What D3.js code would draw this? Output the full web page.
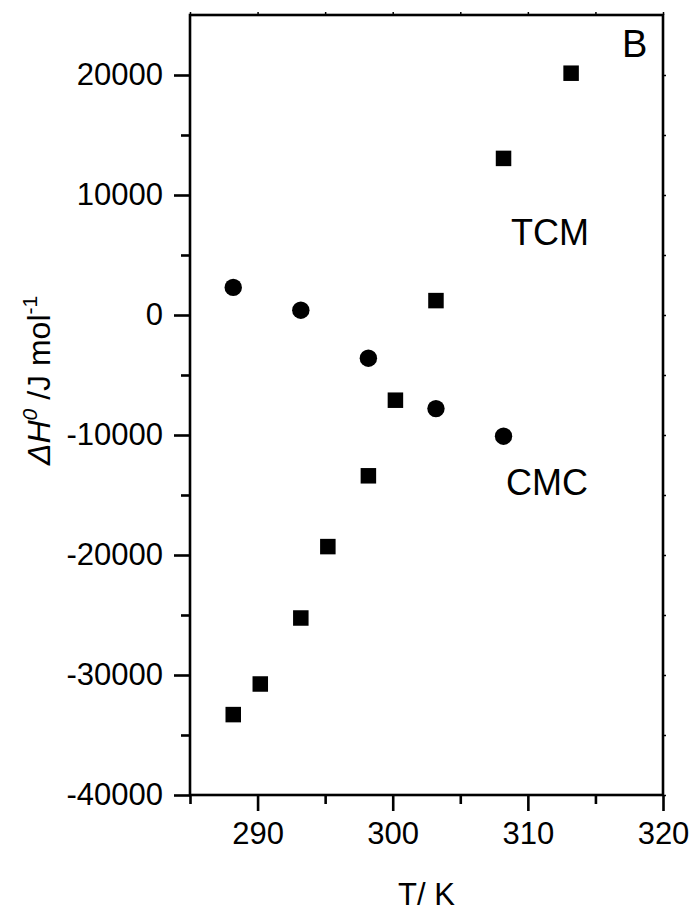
<!DOCTYPE html>
<html><head><meta charset="utf-8">
<script src="https://cdn.jsdelivr.net/npm/d3@7"></script>
<style>html,body{margin:0;padding:0;background:#fff;}svg{display:block;font-family:"Liberation Sans",Arial,sans-serif;}</style>
</head><body>
<script>
const cmcT = [288.2, 293.2, 298.2, 303.2, 308.2];
const cmcH = [2300, 400, -3600, -7800, -10100];
const tcmT = [288.2, 290.2, 293.2, 295.2, 298.2, 300.2, 303.2, 308.2, 313.2];
const tcmH = [-33300, -30750, -25250, -19300, -13400, -7100, 1200, 13050, 20150];
const xTicks = [290, 300, 310, 320];
const yTicks = [-40000, -30000, -20000, -10000, 0, 10000, 20000];
const xMinor = [285, 295, 305, 315];
const yMinor = [-35000, -25000, -15000, -5000, 5000, 15000];

const W = 696, H = 913;
const m = {l: 190, r: 663, t: 15, b: 795};
const svg = d3.select("body").append("svg").attr("width", W).attr("height", H);
const x = d3.scaleLinear().domain([285, 320]).range([m.l, m.r]);
const y = d3.scaleLinear().domain([-40000, 25000]).range([m.b, m.t]);

const lw = 2.6;
const fs = 31;
const fmt = (d) => String(d);
// frame
svg.append("rect").attr("x", m.l).attr("y", m.t).attr("width", m.r - m.l).attr("height", m.b - m.t)
  .attr("fill", "none").attr("stroke", "#000").attr("stroke-width", lw);

// bottom axis major
const gx = svg.append("g").attr("transform", `translate(0,${m.b})`)
  .call(d3.axisBottom(x).tickValues(xTicks).tickSize(16).tickPadding(11).tickFormat(fmt));
gx.select(".domain").remove();
gx.selectAll("line").attr("stroke-width", lw);
gx.selectAll("text").attr("font-size", fs).attr("font-family", "Liberation Sans, Arial, sans-serif").attr("fill", "#000");
const gxm = svg.append("g").attr("transform", `translate(0,${m.b})`)
  .call(d3.axisBottom(x).tickValues(xMinor).tickSize(9).tickFormat(""));
gxm.select(".domain").remove();
gxm.selectAll("line").attr("stroke-width", lw);

// left axis
const gy = svg.append("g").attr("transform", `translate(${m.l},0)`)
  .call(d3.axisLeft(y).tickValues(yTicks).tickSize(16).tickPadding(11).tickFormat(fmt));
gy.select(".domain").remove();
gy.selectAll("line").attr("stroke-width", lw);
gy.selectAll("text").attr("font-size", fs).attr("font-family", "Liberation Sans, Arial, sans-serif").attr("fill", "#000");
const gym = svg.append("g").attr("transform", `translate(${m.l},0)`)
  .call(d3.axisLeft(y).tickValues(yMinor).tickSize(9).tickFormat(""));
gym.select(".domain").remove();
gym.selectAll("line").attr("stroke-width", lw);

// top and right tiny ticks
const gt = svg.append("g").attr("transform", `translate(0,${m.t})`)
  .call(d3.axisTop(x).tickValues(xTicks.concat(xMinor)).tickSize(3).tickFormat(""));
gt.select(".domain").remove();
gt.selectAll("line").attr("stroke-width", 1.5);
const gr = svg.append("g").attr("transform", `translate(${m.r},0)`)
  .call(d3.axisRight(y).tickValues(yTicks.concat(yMinor)).tickSize(3).tickFormat(""));
gr.select(".domain").remove();
gr.selectAll("line").attr("stroke-width", 1.5);

// points
svg.append("g").selectAll("circle").data(cmcT).join("circle")
  .attr("cx", (d) => x(d)).attr("cy", (d, i) => y(cmcH[i])).attr("r", 8.7).attr("fill", "#000");
const s = 15.5;
svg.append("g").selectAll("rect").data(tcmT).join("rect")
  .attr("x", (d) => x(d) - s / 2).attr("y", (d, i) => y(tcmH[i]) - s / 2)
  .attr("width", s).attr("height", s).attr("fill", "#000");

// labels
svg.append("text").attr("x", 622).attr("y", 57).attr("font-size", 38).text("B");
svg.append("text").attr("x", 511).attr("y", 245).attr("font-size", 36).text("TCM");
svg.append("text").attr("x", 506).attr("y", 495).attr("font-size", 36).text("CMC");

// x title
svg.append("text").attr("x", (m.l + m.r) / 2).attr("y", 905).attr("text-anchor", "middle")
  .attr("font-size", fs).text("T/ K");

// y title
const yt = svg.append("text").attr("transform", "translate(50,465) rotate(-90)").attr("font-size", 32);
yt.append("tspan").attr("font-style", "italic").text("\u0394H");
yt.append("tspan").attr("font-style", "italic").attr("font-size", 21).attr("dy", -13).text("0");
yt.append("tspan").attr("dy", 13).text(" /J mol");
yt.append("tspan").attr("font-size", 21).attr("dy", -13).text("-1");
</script>
</body></html>
